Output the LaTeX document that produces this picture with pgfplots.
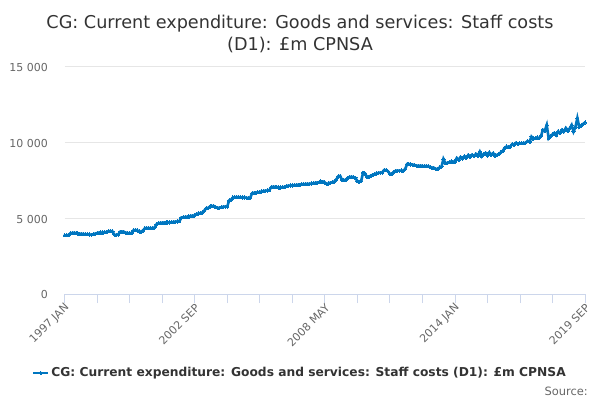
\documentclass[border=0pt]{standalone}
\usepackage{pgfplots}
\pgfplotsset{compat=1.18}
\usepackage{fontspec}
\setmainfont{DejaVu Sans}
\definecolor{ons}{RGB}{0,118,192}
\definecolor{tgray}{RGB}{102,102,102}
\definecolor{ttl}{RGB}{51,51,51}
\definecolor{axc}{RGB}{204,214,235}
\definecolor{grd}{RGB}{230,230,230}
\begin{document}
\begin{tikzpicture}[x=1bp,y=1bp]
\useasboundingbox (0,0) rectangle (600,400);
\node[anchor=base, font=\fontsize{17.7}{20}\selectfont, text=ttl, inner sep=0pt] at (300,372) {CG: Current expenditure: Goods and services: Staff costs};
\node[anchor=base, font=\fontsize{17.7}{20}\selectfont, text=ttl, inner sep=0pt] at (300,349.5) {(D1): £m CPNSA};
\begin{axis}[
  at={(64.6bp,106bp)}, anchor=south west,
  scale only axis, width=520.4bp, height=227.5bp,
  xmin=0, xmax=272, ymin=0, ymax=15000,
  scaled y ticks=false,
  axis x line=bottom, axis y line=left,
  axis line style={-},
  x axis line style={draw=axc, line width=0.8bp},
  y axis line style={draw=none},
  ytick={0,5000,10000,15000},
  yticklabels={0,5 000,10 000,15 000},
  ymajorgrids, grid style={draw=grd, line width=0.8bp},
  ytick style={draw=none},
  yticklabel style={font=\fontsize{11}{13}\selectfont, text=tgray, anchor=east, inner sep=0pt, xshift=-7.6bp, yshift=-1bp},
  xtick={0,68,136,204,272},
  xticklabels={1997 JAN,2002 SEP,2008 MAY,2014 JAN,2019 SEP},
  minor xtick={17,34,51,85,102,119,153,170,187,221,238,255},
  xtick style={draw=axc, line width=0.8bp},
  major tick length=9bp, minor tick length=9bp,
  tick align=outside,
  xticklabel style={font=\fontsize{11}{13}\selectfont, text=tgray, rotate=45, anchor=east, inner sep=1bp, yshift=-4bp, xshift=1bp},
  legend style={at={(0.4523,-0.347)}, anchor=center, draw=none, fill=none,
    font=\bfseries\fontsize{12.3}{14}\selectfont, text=ttl, inner sep=0pt},
  legend image code/.code={\draw[#1, line width=2.2bp, mark repeat=2, mark phase=2] plot coordinates {(0bp,0bp) (7.5bp,0bp) (15bp,0bp)};},
]
\addplot[color=ons, line width=2.6bp, mark=*, mark size=1.6bp, mark options={solid, fill=ons, draw=ons, line width=0pt}]
table[x expr=\coordindex, y index=0, header=false] {
3870
3870
3880
3990
4020
4030
4010
3990
3970
3960
3950
3940
3930
3920
3910
3930
3970
4010
4040
4050
4050
4070
4090
4140
4150
4120
3910
3890
3920
4090
4110
4100
4040
4010
4000
4020
4190
4220
4190
4120
4110
4190
4340
4340
4330
4340
4350
4370
4580
4660
4680
4690
4700
4710
4720
4720
4730
4750
4770
4780
4800
5030
5060
5070
5080
5110
5150
5160
5180
5270
5310
5330
5370
5490
5650
5670
5770
5800
5790
5720
5670
5690
5720
5750
5760
5770
6160
6210
6360
6380
6390
6380
6370
6360
6360
6350
6310
6340
6640
6660
6680
6700
6720
6760
6790
6810
6820
6840
7040
7060
7060
7040
7020
7020
7030
7060
7110
7140
7150
7160
7170
7180
7190
7210
7230
7240
7250
7260
7260
7280
7300
7320
7340
7360
7420
7410
7350
7260
7290
7340
7360
7410
7550
7750
7780
7530
7500
7530
7650
7720
7720
7700
7650
7450
7400
7450
8000
7950
7730
7730
7800
7850
7900
7950
7980
8000
8010
8170
8170
8090
7920
7910
8040
8120
8130
8130
8140
8130
8240
8560
8560
8540
8520
8490
8460
8440
8460
8440
8420
8440
8420
8370
8330
8310
8240
8260
8340
8390
8900
8640
8630
8680
8730
8720
8730
8960
8830
9030
8930
9080
8980
9160
9030
9180
9080
9230
9130
9380
9080
9230
9300
9130
9330
9180
9280
9130
9160
9230
9330
9430
9630
9720
9680
9730
9880
9830
9960
9880
9930
9940
9930
9980
10080
10030
10370
10220
10270
10320
10270
10420
10820
10770
11140
10270
10420
10520
10620
10470
10710
10620
10820
10720
10940
10770
10910
11140
10710
11010
11600
11010
11110
11200
11310
};
\addlegendentry{CG: Current expenditure: Goods and services: Staff costs (D1): £m CPNSA}
\end{axis}
\node[anchor=base east, font=\fontsize{11.5}{13}\selectfont, text=tgray, inner sep=0pt] at (588,5) {Source:};
\end{tikzpicture}
\end{document}
